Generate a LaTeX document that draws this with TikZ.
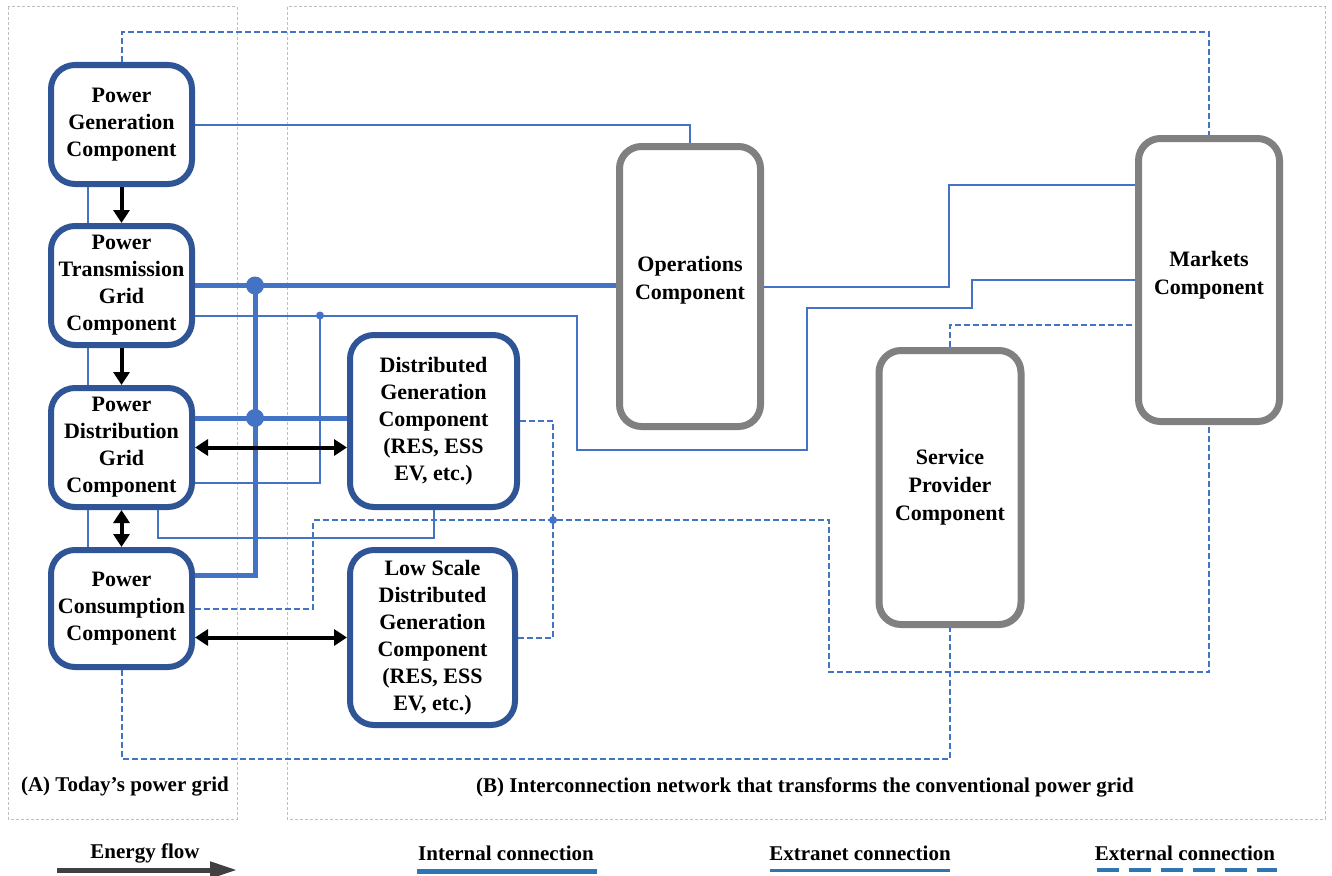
\documentclass[tikz,border=0pt]{standalone}
\usepackage{fontspec}
\setmainfont{Liberation Serif}
\usetikzlibrary{arrows.meta}
\definecolor{boxblue}{RGB}{47,85,151}
\definecolor{lineblue}{RGB}{68,114,196}
\definecolor{boxgray}{RGB}{128,128,128}
\definecolor{legblue}{RGB}{46,117,182}
\definecolor{regiongray}{RGB}{190,190,190}
\definecolor{flowgray}{RGB}{64,64,64}

\begin{document}
\begin{tikzpicture}[x=1pt,y=-1pt,
	blubox/.style={draw=boxblue,line width=6pt,rounded corners=24pt,fill=white,align=center,inner sep=0,minimum width=141pt,font=\fontsize{22}{27}\selectfont\bfseries},
	grybox/.style={draw=boxgray,line width=7pt,rounded corners=22pt,fill=white,align=center,inner sep=0,minimum width=141pt,font=\fontsize{22}{28}\selectfont\bfseries},
	inconn/.style={draw=lineblue,line width=5pt},
	exconn/.style={draw=lineblue,line width=2pt},
	extconn/.style={draw=lineblue,line width=2pt,dash pattern=on 6pt off 3pt},
	flowarrow/.style={draw=black,line width=4pt,-{Triangle[length=13pt,width=16pt]}},
	biflowarrow/.style={draw=black,line width=4pt,{Triangle[length=13pt,width=16pt]}-{Triangle[length=13pt,width=16pt]}},
	regionbox/.style={draw=regiongray,line width=1pt,dash pattern=on 3pt off 2pt},
	captext/.style={font=\fontsize{21}{25}\selectfont\bfseries}]
	\useasboundingbox (0,0) rectangle (1332,875);
	\draw[regionbox] (8,7) rectangle (237,819);
	\draw[regionbox] (287,7) rectangle (1325,819);
	\node[captext] (capA) at (125,787) {(A) Today’s power grid};
	\node[captext] (capB) at (805,787) {(B) Interconnection network that transforms the conventional power grid};
	\node[blubox,minimum height=119pt] (pg) at (121.5,124.5) {Power\\Generation\\Component};
	\node[blubox,minimum height=119pt] (pt) at (121.5,285.5) {Power\\Transmission\\Grid\\Component};
	\node[blubox,minimum height=119pt] (pd) at (121.5,447.5) {Power\\Distribution\\Grid\\Component};
	\node[blubox,minimum height=117pt] (pc) at (121.5,608.5) {Power\\Consumption\\Component};
	\node[blubox,minimum width=167pt,minimum height=172pt] (dg) at (433.5,421) {Distributed\\Generation\\Component\\(RES, ESS\\EV, etc.)};
	\node[blubox,minimum width=165pt,minimum height=175pt] (ls) at (432.5,637.5) {Low Scale\\Distributed\\Generation\\Component\\(RES, ESS\\EV, etc.)};
	\node[grybox,minimum height=280pt] (ops) at (690,286.5) {Operations\\Component\\[-10pt]};
	\node[grybox,minimum width=142pt,minimum height=274pt] (sp) at (950,487.5) {Service\\Provider\\Component};
	\node[grybox,minimum height=283pt] (mk) at (1209,280) {Markets\\Component\\[-14pt]};
	\coordinate (j1) at (255,285.5);
	\coordinate (j2) at (255,418);
	\coordinate (j3) at (255,575);
	\coordinate (b1) at (320,315.5);
	\coordinate (b2) at (553,520);
	\draw[inconn] (pt.east) -- (pt.east -| ops.west);
	\draw[inconn] (j1) -- (j3) -- (j3 -| pc.east);
	\draw[inconn] (j2 -| pd.east) -- (j2 -| dg.west);
	\fill[lineblue] (j1) circle[radius=9pt];
	\fill[lineblue] (j2) circle[radius=9pt];
	\draw[exconn] (pg.east) -| (ops.north);
	\draw[exconn] ([yshift=-30pt]pt.east) -| (577,450) -| (807,308) -| (972,280) -- (mk.west);
	\draw[exconn] (b1) |- ([yshift=-35.5pt]pd.east);
	\fill[lineblue] (b1) circle[radius=4pt];
	\draw[exconn] (ops.east) -| (949,185) -- (1135,185);
	\draw[exconn] ([xshift=-33.5pt]pg.south) -- ([xshift=-33.5pt]pt.north);
	\draw[exconn] ([xshift=-33.5pt]pt.south) -- ([xshift=-33.5pt]pd.north);
	\draw[exconn] ([xshift=-33.5pt]pd.south) -- ([xshift=-33.5pt]pc.north);
	\draw[exconn] ([xshift=36.5pt]pd.south) |- ([yshift=-28pt]dg.south) -- (dg.south);
	\draw[extconn] (pg.north) |- ([yshift=102.5pt]mk.north) -- (mk.north);
	\draw[extconn] (pc.east) -| (313,520) -- (829,520) |- (1209,672) -- (mk.south);
	\draw[extconn] (dg.east) -| (553,637.5) -- (ls.east);
	\fill[lineblue] (b2) circle[radius=4pt];
	\draw[extconn] (pc.south) |- ([yshift=-130.5pt]sp.south) -- (sp.south);
	\draw[extconn] (sp.north) |- ([yshift=-45pt]mk.west);
	\draw[flowarrow] (pg.south) -- (pt.north);
	\draw[flowarrow] (pt.south) -- (pd.north);
	\draw[biflowarrow] (pd.south) -- (pc.north);
	\draw[biflowarrow] (pd.east) -- (pd.east -| dg.west);
	\draw[biflowarrow] (ls.west -| pc.east) -- (ls.west);
	\node[captext] (legflow) at (145,853) {Energy flow};
	\node[captext] (legin) at (506,853) {Internal connection};
	\node[captext] (legextra) at (860,853) {Extranet connection};
	\node[captext] (legexter) at (1185,853) {External connection};
	\coordinate (lf1) at (57,870);
	\coordinate (lf2) at (237,870);
	\coordinate (li1) at (417,871);
	\coordinate (li2) at (597,871);
	\coordinate (lx1) at (770,870);
	\coordinate (lx2) at (950,870);
	\coordinate (le1) at (1097,870);
	\coordinate (le2) at (1277,870);
	\draw[draw=flowgray,line width=5pt,-{Triangle[length=27pt,width=16pt]}] (lf1) -- (lf2);
	\draw[draw=legblue,line width=5pt] (li1) -- (li2);
	\draw[draw=legblue,line width=3pt] (lx1) -- (lx2);
	\draw[draw=legblue,line width=4pt,dash pattern=on 22pt off 10pt] (le1) -- (le2);
\end{tikzpicture}
\end{document}
